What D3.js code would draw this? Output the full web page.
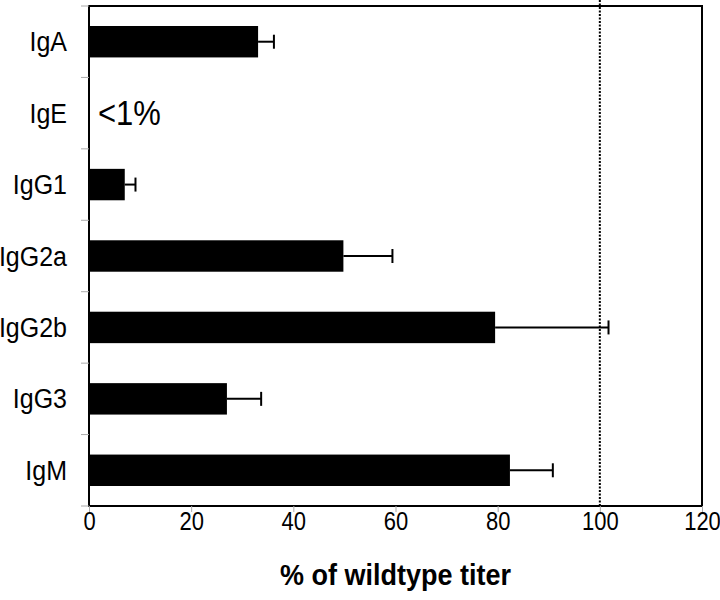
<!DOCTYPE html>
<html>
<head>
<meta charset="utf-8">
<script src="https://cdnjs.cloudflare.com/ajax/libs/d3/7.8.5/d3.min.js"></script>
<style>
  html, body { margin: 0; padding: 0; background: #fff; }
  svg { display: block; }
  text { font-family: "Liberation Sans", Arial, sans-serif; fill: #000; }
</style>
</head>
<body>
<svg id="chart" width="720" height="600"></svg>
<script>
const categories = ["IgA", "IgE", "IgG1", "IgG2a", "IgG2b", "IgG3", "IgM"];
const values     = [33.1, 0, 7.0, 49.8, 79.5, 27.0, 82.4];
const errors     = [3.1, 0, 2.1, 9.6, 22.2, 6.7, 8.4];
const xTicks     = [0, 20, 40, 60, 80, 100, 120];
const refLine    = 100;
const noteCategory = "IgE";
const noteText   = "<1%";
const xTitle     = "% of wildtype titer";

const svg = d3.select("#chart");
const m = { left: 89, right: 702, top: 6, bottom: 506 };

const x = d3.scaleLinear().domain([0, 120]).range([m.left, m.right]);
const y = d3.scaleBand().domain(categories).range([m.top, m.bottom]).paddingInner(0.56).paddingOuter(0.28);
const yEdge = d3.scaleBand().domain(categories).range([m.top, m.bottom]);

// text with vertical stretch, anchored at (px, py)
function stretchedText(g, px, py, sy) {
  return g.append("text").attr("transform", `translate(${px},${py}) scale(1,${sy})`).attr("x", 0).attr("y", 0);
}

// bars
svg.append("g").selectAll("rect")
  .data(categories.map((c, i) => ({ c, v: values[i], e: errors[i] })).filter(d => d.v > 0))
  .join("rect")
  .attr("x", x(0))
  .attr("y", d => y(d.c))
  .attr("width", d => x(d.v) - x(0))
  .attr("height", y.bandwidth())
  .attr("fill", "#000");

// error bars
const eb = svg.append("g").attr("stroke", "#000").attr("stroke-width", 2);
categories.forEach((c, i) => {
  if (!(errors[i] > 0)) return;
  const cy = y(c) + y.bandwidth() / 2;
  eb.append("line").attr("x1", x(values[i])).attr("x2", x(values[i] + errors[i])).attr("y1", cy).attr("y2", cy);
  eb.append("line").attr("x1", x(values[i] + errors[i])).attr("x2", x(values[i] + errors[i])).attr("y1", cy - 7).attr("y2", cy + 7);
});

// reference dotted line
svg.append("line")
  .attr("x1", x(refLine)).attr("x2", x(refLine))
  .attr("y1", 0).attr("y2", m.bottom)
  .attr("stroke", "#000").attr("stroke-width", 2).attr("stroke-dasharray", "2,1.5");

// frame
svg.append("rect")
  .attr("x", m.left).attr("y", m.top)
  .attr("width", m.right - m.left).attr("height", m.bottom - m.top)
  .attr("fill", "none").attr("stroke", "#000").attr("stroke-width", 2);

// y ticks at band edges
const yEdges = categories.map(c => yEdge(c)).concat([m.bottom]);
svg.append("g").selectAll("line").data(yEdges).join("line")
  .attr("x1", m.left - 8).attr("x2", m.left).attr("y1", d => d).attr("y2", d => d)
  .attr("stroke", "#aaa").attr("stroke-width", 1);

// y labels
const yl = svg.append("g");
categories.forEach(c => {
  stretchedText(yl, 67, yEdge(c) + yEdge.bandwidth() / 2 + 9.5, 1.12)
    .attr("text-anchor", "end")
    .attr("font-size", 25)
    .text(c);
});

// x axis
const xAxis = svg.append("g").attr("transform", `translate(0,${m.bottom})`)
  .call(d3.axisBottom(x).tickValues(xTicks).tickSize(6).tickFormat(d3.format("d")));
xAxis.select(".domain").remove();
xAxis.selectAll(".tick line").attr("stroke", "#aaa");
xAxis.selectAll(".tick text")
  .attr("font-size", 22)
  .attr("font-family", "'Liberation Sans', Arial, sans-serif")
  .attr("fill", "#000")
  .attr("dy", null)
  .attr("y", 23.5 / 1.2)
  .attr("transform", "scale(1,1.2)");

// note
stretchedText(svg, 98, yEdge(noteCategory) + yEdge.bandwidth() / 2 + 12, 1.12)
  .attr("font-size", 31)
  .text(noteText);

// x title
stretchedText(svg, (x(0) + x(120)) / 2, 585, 1.08)
  .attr("text-anchor", "middle")
  .attr("font-weight", "bold")
  .attr("font-size", 27)
  .text(xTitle);
</script>
</body>
</html>
